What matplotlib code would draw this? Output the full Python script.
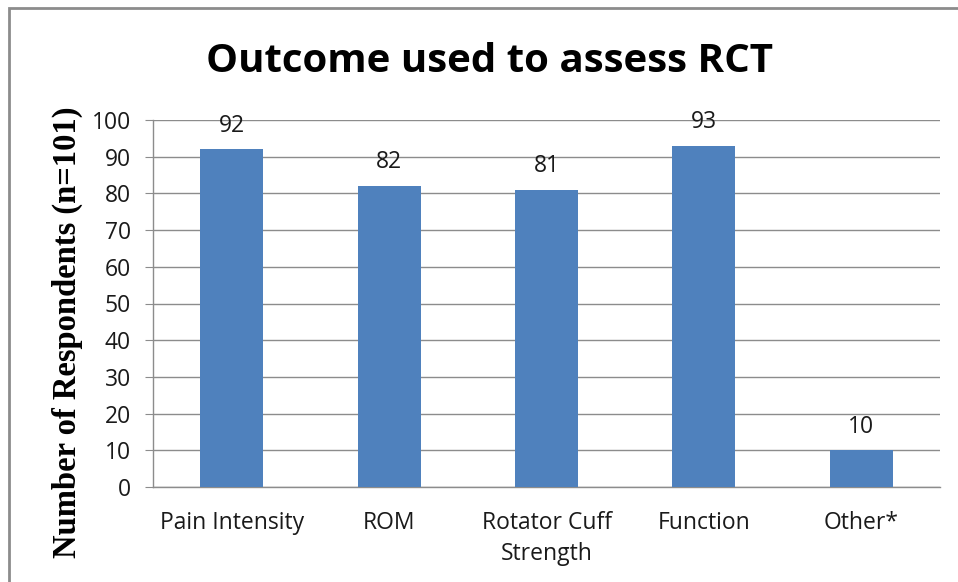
import matplotlib
matplotlib.use("Agg")
import matplotlib.pyplot as plt
from matplotlib.patches import Rectangle

categories = ["Pain Intensity", "ROM", "Rotator Cuff\nStrength", "Function", "Other*"]
values = [92, 82, 81, 93, 10]
yticks = [0, 10, 20, 30, 40, 50, 60, 70, 80, 90, 100]

W, H = 958, 582
fig = plt.figure(figsize=(W / 100, H / 100), dpi=100)
ax = fig.add_axes([153 / W, 1 - 487 / H, (940 - 153) / W, (487 - 120) / H])

bar_color = "#4F81BD"
grid_color = "#8C8C8C"
font = "Open Sans"
x = list(range(len(categories)))
ax.bar(x, values, width=0.4, color=bar_color, zorder=3)
ax.set_xlim(-0.5, len(categories) - 0.5)
ax.set_ylim(0, 100)
ax.set_yticks(yticks)
ax.set_yticklabels([str(t) for t in yticks], fontfamily=font, fontsize=16.5, color="#1a1a1a")
ax.set_xticks(x)
ax.set_xticklabels(categories, fontfamily=font, fontsize=16.5, linespacing=1.4, color="#1a1a1a")
ax.tick_params(axis="x", length=0, pad=17)
ax.tick_params(axis="y", length=6, color=grid_color, pad=10)
ax.grid(axis="y", color=grid_color, linewidth=1, zorder=0)
for s in ["top", "right"]:
    ax.spines[s].set_visible(False)
for s in ["left", "bottom"]:
    ax.spines[s].set_color(grid_color)
    ax.spines[s].set_linewidth(1)

for xi, v in zip(x, values):
    ax.annotate(str(v), (xi, v), xytext=(0, 17), textcoords="offset points",
                ha="center", va="center", fontfamily=font, fontsize=16.5, color="#1a1a1a")

ax.set_ylabel("Number of Respondents (n=101)", fontfamily="Liberation Serif",
              fontweight="bold", fontsize=23.5, va="center")
ax.yaxis.set_label_coords(-(153 - 67) / (940 - 153), (487 - 332) / (487 - 120))

fig.text(490 / W, 1 - 61 / H, "Outcome used to assess RCT", ha="center", va="center",
         fontfamily=font, fontweight="bold", fontsize=29)

fig.patches.append(Rectangle((9 / W, -0.1), 1.2, 1.1 - 8 / H,
                             transform=fig.transFigure, fill=False,
                             edgecolor="#8C8C8C", linewidth=2))

fig.savefig("out.png", dpi=100)
